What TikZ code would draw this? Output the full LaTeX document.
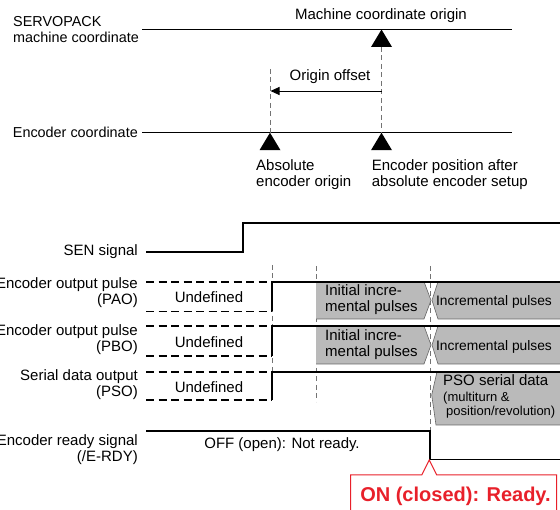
\documentclass[tikz,border=0pt]{standalone}
\usepackage{fontspec}
\setmainfont{Liberation Sans}
\usetikzlibrary{arrows.meta}
\colorlet{pulsegray}{black!27}
\colorlet{guidegray}{black!55}
\definecolor{alertred}{HTML}{E8202A}

\begin{document}
\begin{tikzpicture}[x=1pt,y=-1pt]
  \tikzset{lbl/.style={font=\fontsize{15}{15.8}\selectfont, inner sep=0pt},
    axlbl/.style={lbl, font=\fontsize{14.4}{15.6}\selectfont},
    sig/.style={line width=1.8pt},
    undef/.style={line width=1.8pt, dash pattern=on 8pt off 4.5pt},
    guide/.style={guidegray, line width=0.8pt, dash pattern=on 5pt off 3.5pt},
    axisln/.style={line width=0.9pt},
    boxedge/.style={draw=black!60, line width=0.6pt},
    tri/.style={fill=black}}
\useasboundingbox (0,0) rectangle (560,510);
% coordinate axes
\coordinate (mo) at (381.5,29.5); \coordinate (eo) at (270,132.7); \coordinate (ep) at (381.5,132.7);
\node[axlbl, anchor=west, align=left] (servo) at (13,29.5) {SERVOPACK\\machine coordinate};
\node[lbl] (molbl) at (381,16) {Machine coordinate origin};
\node[axlbl, anchor=east] (enclbl) at (138,132.7) {Encoder coordinate};
\draw[axisln] (142,29.5) -- (512,29.5); \draw[axisln] (142,132.7) -- (512,132.7);
\draw[guide] (381.5,47) -- (ep); \draw[guide] (270,69) -- (eo);
\fill[tri] (mo) -- ++(-10.5,17.5) -- ++(21,0) -- cycle;
\fill[tri] (eo) -- ++(-10.5,17.5) -- ++(21,0) -- cycle;
\fill[tri] (ep) -- ++(-10.5,17.5) -- ++(21,0) -- cycle;
\coordinate (offr) at (381.5,91); \coordinate (offl) at (270.5,91);
\draw[line width=0.9pt, -{Triangle[length=9pt,width=8pt]}] (offr) -- (offl);
\node[lbl] (offlbl) at (330,77) {Origin offset};
\node[lbl, anchor=west, align=left] (abslbl) at (256,175) {Absolute\\encoder origin};
\node[lbl, anchor=west, align=left] (poslbl) at (371.7,175) {Encoder position after\\absolute encoder setup};
% timing chart
\node[lbl, anchor=east] (sen) at (138,251.7) {SEN signal};
\node[lbl, anchor=east, align=right] (pao) at (138,293) {Encoder output pulse\\(PAO)};
\node[lbl, anchor=east, align=right] (pbo) at (138,339.5) {Encoder output pulse\\(PBO)};
\node[lbl, anchor=east, align=right] (pso) at (138,384.5) {Serial data output\\(PSO)};
\node[lbl, anchor=east, align=right] (rdy) at (138,450) {Encoder ready signal\\(/E-RDY)};
\draw[guide] (272,265) -- (272,400); \draw[guide] (316,266) -- (316,402); \draw[guide] (430,266) -- (430,430.7);
% pulse boxes
\fill[pulsegray] (316,281.7) -- (424,281.7) -- (431,300.3) -- (424,319) -- (316,319) -- cycle;
\draw[boxedge] (316,319) -- (424,319) -- (431,300.3) -- (424,281.7);
\fill[pulsegray] (438,281.7) -- (432,300.3) -- (438,319) -- (560,319) -- (560,281.7) -- cycle;
\draw[boxedge] (438,281.7) -- (432,300.3) -- (438,319) -- (560,319);
\fill[pulsegray] (316,326) -- (424,326) -- (431,345) -- (424,364) -- (316,364) -- cycle;
\draw[boxedge] (316,364) -- (424,364) -- (431,345) -- (424,326);
\fill[pulsegray] (438,326) -- (432,345) -- (438,364) -- (560,364) -- (560,326) -- cycle;
\draw[boxedge] (438,326) -- (432,345) -- (438,364) -- (560,364);
\fill[pulsegray] (437,371.7) -- (431.7,395) -- (436,425) -- (560,425) -- (560,371.7) -- cycle;
\draw[boxedge] (437,371.7) -- (431.7,395) -- (436,425) -- (560,425);
% signal lines
\draw[sig] (146,251.7) -- (243,251.7) -- (243,222.7) -- (560,222.7);
\draw[undef] (146,281.7) -- (272,281.7); \draw[undef] (146,311.5) -- (272,311.5);
\draw[sig] (272,311.5) -- (272,281.7) -- (560,281.7);
\draw[undef] (146,326) -- (272,326); \draw[undef] (146,356) -- (272,356);
\draw[sig] (272,356) -- (272,326) -- (560,326);
\draw[undef] (146,371.7) -- (272,371.7); \draw[undef] (146,400) -- (272,400);
\draw[sig] (272,400) -- (272,371.7) -- (560,371.7);
\draw[sig] (146,430.7) -- (430,430.7) -- (430,459.5) -- (560,459.5);
% texts in the chart
\node[lbl] (u1) at (209,297) {Undefined};
\node[lbl] (u2) at (209,342) {Undefined};
\node[lbl] (u3) at (209,387) {Undefined};
\node[lbl, anchor=west, align=left] (ini1) at (325,299.5) {Initial incre-\\mental pulses};
\node[lbl, anchor=west, align=left] (ini2) at (325,344.5) {Initial incre-\\mental pulses};
\node[lbl, font=\fontsize{13.8}{15}\selectfont] (inc1) at (494,301.5) {Incremental pulses};
\node[lbl, font=\fontsize{13.8}{15}\selectfont] (inc2) at (494,346.5) {Incremental pulses};
\node[lbl, anchor=west, align=left] (psotxt) at (443,396.5) {PSO serial data\\{\fontsize{13}{14}\selectfont(multiturn \&}\\[-1pt]{\fontsize{13}{14}\selectfont\hspace{3pt}position/revolution)}};
\node[lbl] (off) at (282,445) {OFF (open): Not ready.};
% callout
\coordinate (rdyon) at (429.3,460);
\draw[alertred, line width=1pt] (350.7,515) -- (350.7,475) -- (421.7,475) -- (rdyon) -- (436.7,475) -- (556.7,475) -- (556.7,515);
\node[font=\fontsize{20}{22}\selectfont\bfseries, text=alertred, inner sep=0pt] (on) at (455.5,496) {ON (closed): Ready.};
\end{tikzpicture}
\end{document}
